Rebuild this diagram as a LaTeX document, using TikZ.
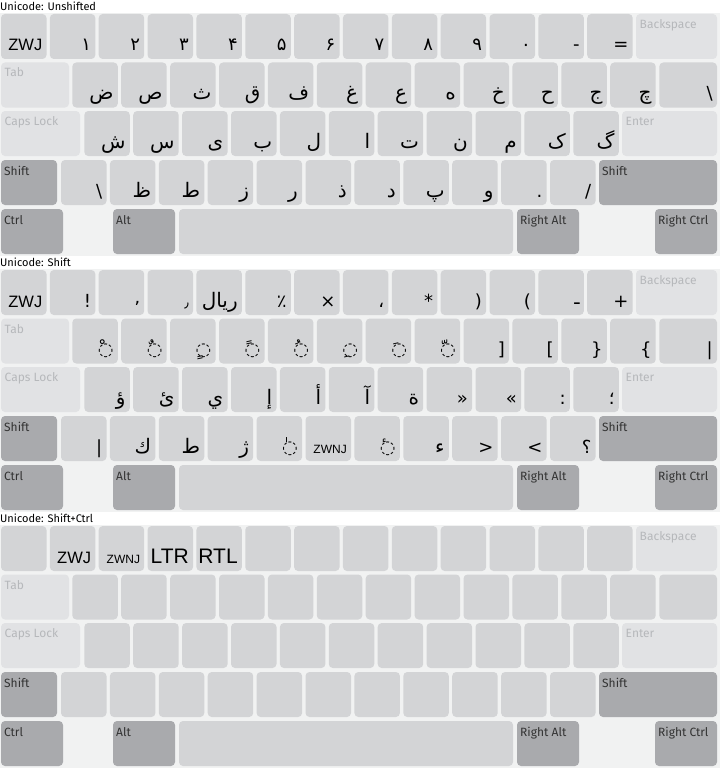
\documentclass[tikz,border=0pt]{standalone}
\usepackage{fontspec}
\setmainfont{Fira Sans}
\newfontfamily\arfont[Script=Arabic]{DejaVu Sans}
\newfontfamily\symfont{DejaVu Sans}
\newfontfamily\lafont{Liberation Sans}
\TeXXeTstate=1
\definecolor{kbbg}{HTML}{F1F2F2}
\definecolor{keyreg}{HTML}{D3D4D6}
\definecolor{keylit}{HTML}{E1E2E4}
\definecolor{keymod}{HTML}{A9AAAD}
\definecolor{littxt}{HTML}{B6B8BB}
\definecolor{modtxt}{HTML}{333333}
\tikzset{
  keybase/.style={rounded corners=4pt,inner sep=0pt,outer sep=0pt,minimum height=45pt,anchor=north west},
  regkey/.style={keybase,fill=keyreg},
  litkey/.style={keybase,fill=keylit},
  modkey/.style={keybase,fill=keymod},
  bgbox/.style={fill=kbbg,inner sep=0pt,outer sep=0pt,anchor=north west,minimum width=720pt,minimum height=243pt},
  keyleg/.style={inner sep=0pt,anchor=base east,font=\arfont\fontsize{18}{18}\selectfont},
  littext/.style={inner sep=0pt,anchor=base west,text=littxt,font=\fontsize{12}{12}\selectfont},
  modtext/.style={littext,text=modtxt},
  titletext/.style={inner sep=0pt,anchor=base west,font=\fontsize{11}{11}\selectfont},
}
\newcommand\lat[2][16.5]{{\lafont\fontsize{#1}{#1}\selectfont #2}}
\newcommand\sym[1]{{\symfont #1}}
\newcommand\bigar[1]{{\fontsize{20}{20}\selectfont #1}}
\newcommand\kkey[6]{%
  \node[#5,minimum width=#4pt] (#1) at ({#2},{#3}) {};
  \node[keyleg] (#1-l) at ([xshift=-4pt,yshift=8pt]#1.south east) {#6};
}
\newcommand\rowA[3]{\foreach \t [count=\i from 0] in {#3} {\kkey{#1-a\i}{1+48.85*\i}{#2+14}{45.5}{regkey}{\t}}}
\newcommand\rowB[3]{\foreach \t [count=\i from 0] in {#3} {\kkey{#1-b\i}{72.3+48.9*\i}{#2+62.5}{45.5}{regkey}{\t}}}
\newcommand\rowC[3]{\foreach \t [count=\i from 0] in {#3} {\kkey{#1-c\i}{84.3+48.9*\i}{#2+111}{45.5}{regkey}{\t}}}
\newcommand\rowD[3]{\foreach \t [count=\i from 0] in {#3} {\kkey{#1-d\i}{61+48.9*\i}{#2+160}{45.5}{regkey}{\t}}}
\newcommand\kbframe[3]{%
  \node[titletext] (#1-title) at (0,{#2+10.5}) {#3};
  \node[bgbox] (#1-bg) at (0,{#2+13}) {};
  \node[litkey,minimum width=81pt] (#1-bksp) at (636,{#2+14}) {};
  \node[littext] (#1-bksp-t) at ([xshift=3.5pt,yshift=-14.5pt]#1-bksp.north west) {Backspace};
  \node[litkey,minimum width=68pt] (#1-tab) at (1,{#2+62.5}) {};
  \node[littext] (#1-tab-t) at ([xshift=3.5pt,yshift=-14.5pt]#1-tab.north west) {Tab};
  \node[litkey,minimum width=79pt] (#1-caps) at (1,{#2+111}) {};
  \node[littext] (#1-caps-t) at ([xshift=3.5pt,yshift=-14.5pt]#1-caps.north west) {Caps Lock};
  \node[litkey,minimum width=95pt] (#1-enter) at (622,{#2+111}) {};
  \node[littext] (#1-enter-t) at ([xshift=3.5pt,yshift=-14.5pt]#1-enter.north west) {Enter};
  \node[modkey,minimum width=56pt] (#1-lsh) at (1,{#2+160}) {};
  \node[modtext] (#1-lsh-t) at ([xshift=3pt,yshift=-15pt]#1-lsh.north west) {Shift};
  \node[modkey,minimum width=118pt] (#1-rsh) at (599,{#2+160}) {};
  \node[modtext] (#1-rsh-t) at ([xshift=3pt,yshift=-15pt]#1-rsh.north west) {Shift};
  \node[modkey,minimum width=62pt] (#1-lctl) at (1,{#2+209}) {};
  \node[modtext] (#1-lctl-t) at ([xshift=3pt,yshift=-15pt]#1-lctl.north west) {Ctrl};
  \node[modkey,minimum width=62pt] (#1-lalt) at (113,{#2+209}) {};
  \node[modtext] (#1-lalt-t) at ([xshift=3pt,yshift=-15pt]#1-lalt.north west) {Alt};
  \node[regkey,minimum width=334pt] (#1-space) at (179,{#2+209}) {};
  \node[modkey,minimum width=62pt] (#1-ralt) at (517,{#2+209}) {};
  \node[modtext] (#1-ralt-t) at ([xshift=3pt,yshift=-15pt]#1-ralt.north west) {Right Alt};
  \node[modkey,minimum width=62pt] (#1-rctl) at (655,{#2+209}) {};
  \node[modtext] (#1-rctl-t) at ([xshift=3pt,yshift=-15pt]#1-rctl.north west) {Right Ctrl};
}
\begin{document}
\begin{tikzpicture}[x=1pt,y=-1pt]
\useasboundingbox (0,0) rectangle (720,768);
\fill[white] (0,0) rectangle (720,768);
% ---------- Unshifted
\kbframe{u}{0}{Unicode: Unshifted}
\rowA{u}{0}{\lat{ZWJ},۱,۲,۳,۴,۵,۶,۷,۸,۹,۰,\sym{-},\sym{=}}
\rowB{u}{0}{\bigar{ض},\bigar{ص},\bigar{ث},\bigar{ق},\bigar{ف},\bigar{غ},\bigar{ع},\bigar{ه},\bigar{خ},\bigar{ح},\bigar{ج},\bigar{چ}}
\kkey{u-wide}{659.3}{62.5}{57.7}{regkey}{\sym{\char92}}
\rowC{u}{0}{\bigar{ش},\bigar{س},\bigar{ی},\bigar{ب},\bigar{ل},\bigar{ا},\bigar{ت},\bigar{ن},\bigar{م},\bigar{ک},\bigar{گ}}
\rowD{u}{0}{\sym{\char92},\bigar{ظ},\bigar{ط},\bigar{ز},\bigar{ر},\bigar{ذ},\bigar{د},\bigar{پ},\bigar{و},\sym{.},\sym{/}}
% ---------- Shift
\kbframe{s}{256}{Unicode: Shift}
\rowA{s}{256}{\lat{ZWJ},\sym{!},{\raisebox{-7pt}{٬}},{\fontsize{14}{14}\selectfont ٫},{\bigar{\beginR ریال\endR}},٪,\sym{×},،,\sym{*},\sym{)},\sym{(},{\raisebox{3pt}{ـ}},\sym{+}}
\rowB{s}{256}{◌ْ,◌ٌ,◌ٍ,◌ً,◌ُ,◌ِ,◌َ,◌ّ,\sym{]},\sym{[},\sym{\}},\sym{\{}}
\kkey{s-wide}{659.3}{256+62.5}{57.7}{regkey}{\sym{|}}
\rowC{s}{256}{\bigar{ؤ},\bigar{ئ},\bigar{ي},\bigar{إ},\bigar{أ},\bigar{آ},\bigar{ة},\sym{»},\sym{«},\sym{:},؛}
\rowD{s}{256}{\sym{|},\bigar{ك},\bigar{ط},\bigar{ژ},◌ٰ,\lat[12]{ZWNJ},◌ٔ,\bigar{ء},\sym{>},\sym{<},؟}
% ---------- Shift+Ctrl
\kbframe{c}{512}{Unicode: Shift+Ctrl}
\rowA{c}{512}{{},\lat{ZWJ},\lat[12]{ZWNJ},\lat[21]{LTR},\lat[21]{RTL},{},{},{},{},{},{},{},{}}
\rowB{c}{512}{{},{},{},{},{},{},{},{},{},{},{},{}}
\kkey{c-wide}{659.3}{512+62.5}{57.7}{regkey}{}
\rowC{c}{512}{{},{},{},{},{},{},{},{},{},{},{}}
\rowD{c}{512}{{},{},{},{},{},{},{},{},{},{},{}}
\end{tikzpicture}
\end{document}
